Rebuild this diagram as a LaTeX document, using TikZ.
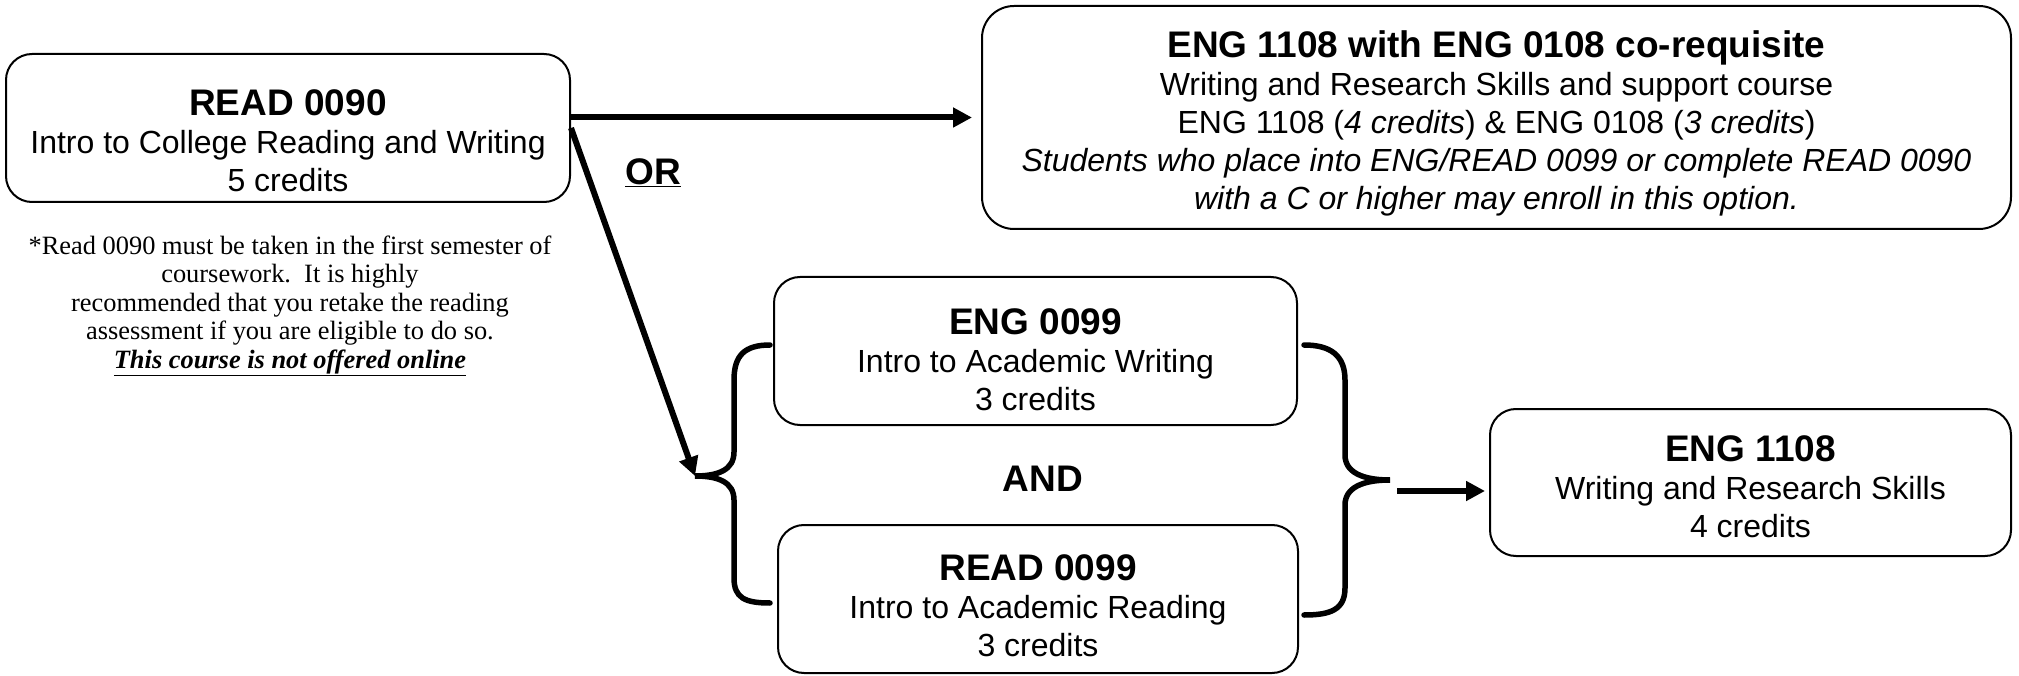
\documentclass[tikz,border=0pt]{standalone}
\usepackage{fontspec}
\setmainfont{Liberation Sans}
\newfontfamily\notefont{Liberation Serif}
\usetikzlibrary{arrows.meta}
\newcommand{\titlef}{\fontsize{37}{42}\selectfont\bfseries}
\newcommand{\bodyf}{\fontsize{32}{38}\selectfont}
\newcommand{\lowr}[1]{\rule{0pt}{#1}}
\tikzset{
  course/.style={draw, line width=2pt, rounded corners=26pt, align=center, inner sep=0pt, font=\bodyf},
  arr/.style={line width=6pt, -{Triangle[length=19pt,width=19pt]}},
  bracel/.style={line width=5.5pt, line cap=round}
}
\begin{document}
\begin{tikzpicture}[x=1pt,y=-1pt]
\useasboundingbox (0,0) rectangle (2019,676);
\node[course, minimum width=564pt, minimum height=148pt] (read) at (288,128)
  {{\titlef\lowr{51pt}READ 0090}\\Intro to College Reading and Writing\\5 credits};
\node[align=center, inner sep=0pt, font=\notefont\fontsize{26.4}{28.5}\selectfont] (note) at (290,306)
  {*Read 0090 must be taken in the first semester of\\coursework.\ \ It is highly\\recommended that you retake the reading\\assessment if you are eligible to do so.\\\underline{\textbf{\textit{This course is not offered online}}}};
\node[course, rounded corners=32pt, minimum width=1029pt, minimum height=223pt] (top) at (1496.5,117.5)
  {{\titlef\lowr{39pt}ENG 1108 with ENG 0108 co-requisite}\\Writing and Research Skills and support course\\ENG 1108 (\textit{4 credits}) \& ENG 0108 (\textit{3 credits})\\\textit{Students who place into ENG/READ 0099 or complete READ 0090}\\\textit{with a C or higher may enroll in this option.}};
\node[font=\titlef, inner sep=0pt] (or) at (653,173) {\underline{OR}};
\node[course, minimum width=523pt, minimum height=148pt] (eng0099) at (1035.5,351)
  {{\titlef\lowr{43pt}ENG 0099}\\Intro to Academic Writing\\3 credits};
\node[font=\titlef, inner sep=0pt] (and) at (1043,479) {AND};
\node[course, minimum width=520pt, minimum height=148pt] (read0099) at (1038,599)
  {{\titlef\lowr{39pt}READ 0099}\\Intro to Academic Reading\\3 credits};
\node[course, minimum width=521pt, minimum height=147pt] (eng1108) at (1750.5,482.5)
  {{\titlef\lowr{35pt}ENG 1108}\\Writing and Research Skills\\4 credits};
\coordinate (lbtip) at (695,476);
\coordinate (rbtip) at (1390,480);
\coordinate (rbout) at (1397,491);
% left brace
\draw[bracel] (770,345) .. controls (745,345) and (734,355) .. (734,380) -- (734,452)
  .. controls (734,470) and (718,476) .. (lbtip)
  .. controls (718,476) and (734,482) .. (734,500) -- (734,578)
  .. controls (734,598) and (745,603) .. (770,603);
% right brace
\draw[bracel] (1304,345) .. controls (1330,345) and (1345,355) .. (1345,380) -- (1345,455)
  .. controls (1345,472) and (1362,480) .. (rbtip)
  .. controls (1362,480) and (1345,488) .. (1345,505) -- (1345,588)
  .. controls (1345,610) and (1330,615) .. (1304,615);
\draw[arr, shorten >=9pt] (read.east |- top.west) -- (top.west);
\draw[arr] (read.east) -- (lbtip);
\draw[arr, shorten >=4pt] (rbout) -- (eng1108.west |- rbout);
\end{tikzpicture}
\end{document}
